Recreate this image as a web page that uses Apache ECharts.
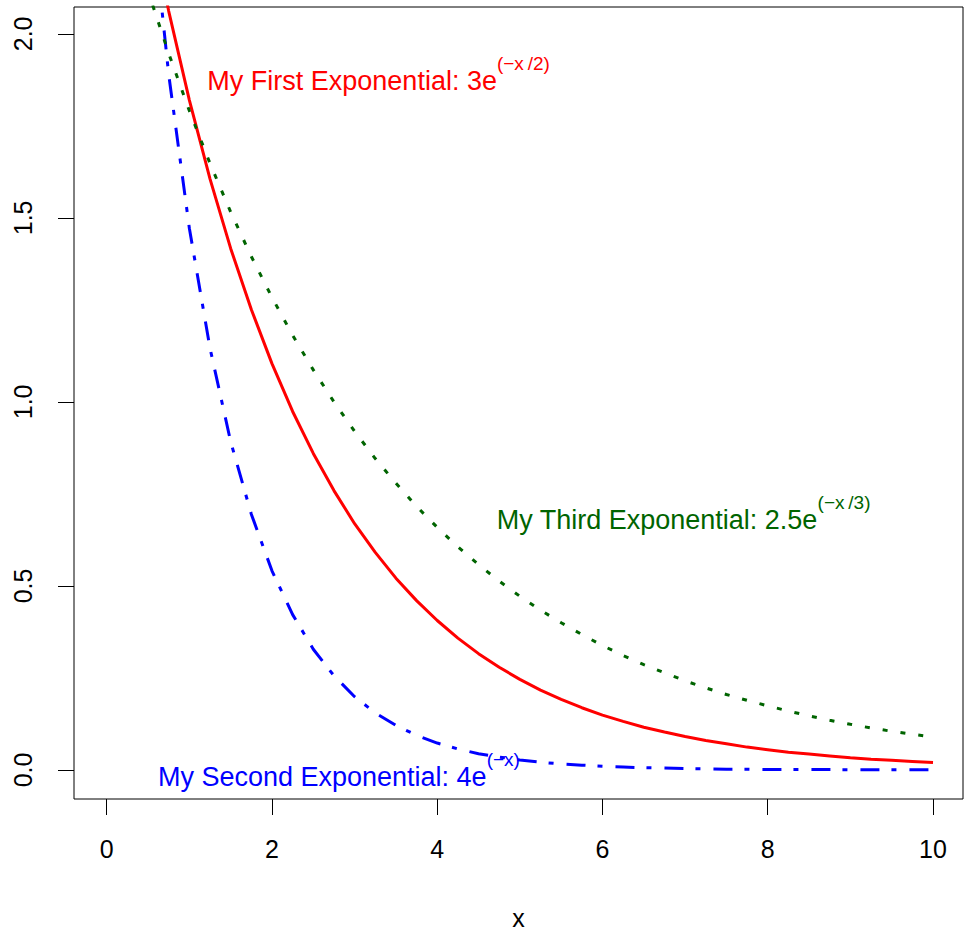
<!DOCTYPE html>
<html>
<head>
<meta charset="utf-8">
<script src="https://cdn.jsdelivr.net/npm/echarts@6/dist/echarts.min.js"></script>
<style>
html,body{margin:0;padding:0;background:#ffffff;}
#chart{width:964px;height:936px;}
</style>
</head>
<body>
<div id="chart"></div>
<script>
// ---- data ----
const xValues = [0,0.25,0.5,0.75,1,1.25,1.5,1.75,2,2.25,2.5,2.75,3,3.25,3.5,3.75,4,4.25,4.5,4.75,5,
  5.25,5.5,5.75,6,6.25,6.5,6.75,7,7.25,7.5,7.75,8,8.25,8.5,8.75,9,9.25,9.5,9.75,10];
const firstExp = [3.000,2.648,2.336,2.062,1.820,1.606,1.417,1.251,1.104,0.974,0.860,0.759,0.669,0.591,
  0.521,0.460,0.406,0.358,0.316,0.279,0.246,0.217,0.192,0.169,0.149,0.132,0.116,0.103,0.091,0.080,
  0.071,0.062,0.055,0.048,0.043,0.038,0.033,0.029,0.026,0.023,0.020];
const secondExp = [4.000,3.115,2.426,1.890,1.472,1.146,0.892,0.695,0.541,0.422,0.328,0.256,0.199,0.155,
  0.121,0.094,0.073,0.057,0.044,0.035,0.027,0.021,0.016,0.013,0.010,0.008,0.006,0.005,0.004,0.003,
  0.002,0.002,0.001,0.001,0.001,0.001,0.0005,0.0004,0.0003,0.0002,0.0002];
const thirdExp = [2.500,2.300,2.116,1.947,1.791,1.648,1.516,1.395,1.284,1.181,1.087,1.000,0.920,0.846,
  0.779,0.716,0.659,0.606,0.558,0.513,0.472,0.434,0.400,0.368,0.338,0.311,0.286,0.264,0.242,0.223,
  0.205,0.189,0.174,0.160,0.147,0.135,0.124,0.114,0.105,0.097,0.089];
const xTicks = [0,2,4,6,8,10];
const yTicks = [0,0.5,1,1.5,2];
const seriesNames = ['My First Exponential','My Second Exponential','My Third Exponential'];
const labelMain = ['My First Exponential: 3e','My Second Exponential: 4e','My Third Exponential: 2.5e'];
const labelSup = ['(\u2212x\u2009/2)','(\u2212x)','(\u2212x\u2009/3)'];
const labelAt = [[3.29,1.872],[2.81,-0.02],[6.98,0.679]];   // text anchors in data units
const xName = 'x';

// ---- styling ----
const FONT = "'Liberation Sans', Arial, Helvetica, sans-serif";
const colors = ['#ff0000','#0000ff','#006400'];
const dashes = ['solid',[19,12,5,13],[5,13]];

function pairs(ys){ return xValues.map((x,i)=>[x, ys[i]]); }
const ysets = [firstExp, secondExp, thirdExp];

const series = ysets.map((ys, k) => ({
  name: seriesNames[k],
  type: 'line',
  data: pairs(ys),
  showSymbol: false,
  symbol: 'none',
  clip: true,
  animation: false,
  silent: true,
  lineStyle: {color: colors[k], width: 3, type: dashes[k], cap: 'butt'},
  markPoint: {
    symbol: 'circle',
    symbolSize: 0,
    silent: true,
    animation: false,
    itemStyle: {color: 'rgba(0,0,0,0)'},
    data: [{coord: labelAt[k], value: 0}],
    label: {
      show: true,
      position: 'inside',
      formatter: '{m|' + labelMain[k] + '}{s|' + labelSup[k] + '}',
      rich: {
        m: {fontFamily: FONT, fontSize: 27, lineHeight: 54, color: colors[k]},
        s: {fontFamily: FONT, fontSize: 19, lineHeight: 20, verticalAlign: 'top', color: colors[k]}
      }
    }
  }
}));

const chart = echarts.init(document.getElementById('chart'), null, {renderer: 'svg'});
chart.setOption({
  backgroundColor: '#ffffff',
  animation: false,
  textStyle: {fontFamily: FONT},
  grid: {left: 74, right: 1, top: 7, bottom: 137, show: true, borderColor: '#000', borderWidth: 1, backgroundColor: 'transparent'},
  xAxis: {
    type: 'value', min: -0.396, max: 10.363,
    splitLine: {show: false},
    axisLine: {show: false, onZero: false},
    axisTick: {show: true, customValues: xTicks, length: 16, lineStyle: {color: '#000', width: 1}},
    axisLabel: {customValues: xTicks, fontSize: 25, color: '#000', fontFamily: FONT, margin: 37},
    name: xName, nameLocation: 'middle', nameGap: 106,
    nameTextStyle: {fontSize: 25, color: '#000', fontFamily: FONT}
  },
  yAxis: {
    type: 'value', min: -0.079, max: 2.073,
    splitLine: {show: false},
    axisLine: {show: false, onZero: false},
    axisTick: {show: true, customValues: yTicks, length: 16, lineStyle: {color: '#000', width: 1}},
    axisLabel: {customValues: yTicks, rotate: 90, fontSize: 25, color: '#000', fontFamily: FONT, margin: 39,
      formatter: v => Number(v).toFixed(1)}
  },
  series: series
});
</script>
</body>
</html>
